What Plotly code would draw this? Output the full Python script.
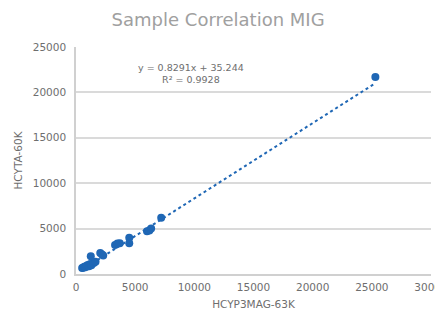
import plotly.graph_objects as go

x_vals = [520, 600, 700, 800, 900, 1000, 1100, 1200, 1300, 1500, 1650, 1250, 2050, 2200, 2300,
          3300, 3500, 3700, 4500, 4500, 6000, 6200, 6350, 7200, 25300]
y_vals = [650, 700, 800, 750, 900, 1000, 850, 1100, 950, 1200, 1350, 1950, 2300, 2150, 2050,
          3200, 3350, 3400, 4000, 3400, 4700, 4800, 5000, 6200, 21700]
slope = 0.8291
intercept = 35.244
r2 = 0.9928

title_text = "Sample Correlation MIG"
x_title = "HCYP3MAG-63K"
y_title = "HCYTA-60K"

blue = "#1F67B5"
font = "DejaVu Sans"
tcol = "#6E6E6E"

xmin, xmax = min(x_vals), max(x_vals)
trend_x = [xmin, xmax]
trend_y = [slope * v + intercept for v in trend_x]

fig = go.Figure()
fig.add_trace(go.Scatter(x=trend_x, y=trend_y, mode="lines",
                         line=dict(color=blue, width=2, dash="dot"), hoverinfo="skip"))
fig.add_trace(go.Scatter(x=x_vals, y=y_vals, mode="markers",
                         marker=dict(color=blue, size=8)))

fig.add_annotation(x=0.324, y=0.883, xref="paper", yref="paper",
                   xanchor="center", yanchor="middle",
                   text=f"y = {slope}x + {intercept}<br>R² = {r2}",
                   showarrow=False, align="center",
                   font=dict(family=font, size=9.5, color=tcol))

fig.update_layout(
    width=435, height=306,
    margin=dict(l=68, r=12, t=39, b=40),
    paper_bgcolor="white", plot_bgcolor="white",
    showlegend=False,
    title=dict(text=title_text, x=0.483, xanchor="center", y=0.961, yanchor="middle",
               font=dict(family=font, size=18, color="#A0A0A0")),
    xaxis=dict(range=[0, 30000], dtick=5000, tickformat="d", showgrid=False, zeroline=False,
               showline=True, linecolor="#D0D0D0", linewidth=1.5,
               tickfont=dict(family=font, size=10.5, color=tcol),
               ticklabelstandoff=3, ticklabeloverflow="allow",
               title=dict(text=x_title, font=dict(family=font, size=10.5, color=tcol), standoff=8),
               ticks="", automargin=False),
    yaxis=dict(range=[0, 25000], dtick=5000, tickformat="d", showgrid=True, gridcolor="#DADADA", gridwidth=1.5,
               zeroline=False, showline=True, linecolor="#D0D0D0", linewidth=1.5,
               tickfont=dict(family=font, size=10.5, color=tcol),
               ticklabelstandoff=6,
               title=dict(text=y_title, font=dict(family=font, size=10.5, color=tcol), standoff=8),
               ticks="", automargin=False),
)

fig.write_html("out.html")
